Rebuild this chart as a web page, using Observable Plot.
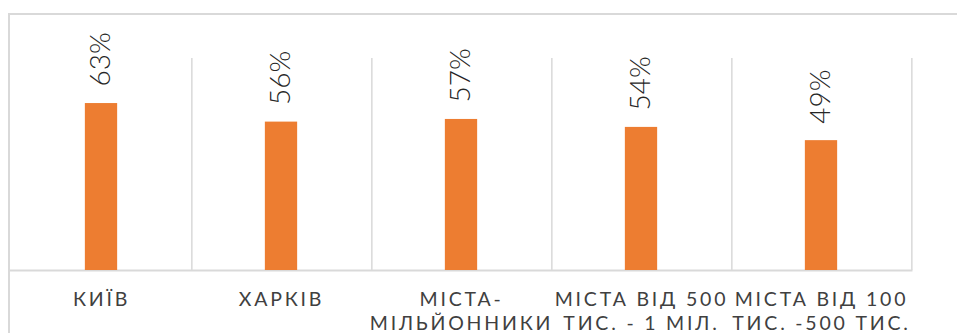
<!DOCTYPE html>
<html>
<head>
<meta charset="utf-8">
<script src="https://cdn.jsdelivr.net/npm/d3@7"></script>
<script src="https://cdn.jsdelivr.net/npm/@observablehq/plot@0.6"></script>
<style>
  body { margin: 0; overflow: hidden; background: #fff; }
  #chart { position: relative; width: 957px; height: 333px; }
  .frame { position: absolute; left: 8px; top: 13px; width: 1000px; height: 400px;
           border-left: 2px solid #d9d9d9; border-top: 2px solid #d9d9d9; pointer-events: none; }
  #chart svg [aria-label="x-axis tick label"] text { letter-spacing: 2.8px; }
</style>
</head>
<body>
<div id="chart"><div class="frame"></div></div>
<script>
// Share by city group
const categories = [
  "КИЇВ",
  "ХАРКІВ",
  "МІСТА-\nМІЛЬЙОННИКИ",
  "МІСТА ВІД 500\nТИС. - 1 МІЛ.",
  "МІСТА ВІД 100\nТИС. -500 ТИС."
];
const shares = [63, 56, 57, 54, 49];
const valueLabels = ["63%", "56%", "57%", "54%", "49%"];
const yDomain = [0, 80];

const data = categories.map((category, i) => ({category, share: shares[i], label: valueLabels[i]}));

const W = 957, H = 333, mL = 9, mR = 44.5;
const step = (W - mL - mR) / categories.length;
const barWidth = 33;
const inset = (step - barWidth) / 2;

const plot = Plot.plot({
  width: W,
  height: H,
  marginLeft: mL,
  marginRight: mR,
  marginTop: 58,
  marginBottom: 63,
  style: {background: "transparent", overflow: "visible"},
  x: {domain: categories, padding: 0},
  y: {domain: yDomain, axis: null},
  marks: [
    // vertical separators on the right edge of each category band
    Plot.ruleX(categories, {x: d => d, y1: yDomain[0], y2: yDomain[1], dx: step / 2, stroke: "#d9d9d9", strokeWidth: 1.5}),
    Plot.ruleY([0], {stroke: "#d9d9d9", strokeWidth: 2}),
    Plot.barY(data, {x: "category", y: "share", fill: "#ED7D31", insetLeft: inset, insetRight: inset}),
    Plot.text(data, {
      x: "category", y: "share", text: "label",
      rotate: -90, textAnchor: "start", dy: -17,
      fontFamily: "Lato", fontWeight: 300, fontSize: 28, fill: "#262626"
    }),
    Plot.axisX({
      tickSize: 0, tickPadding: 18, fontSize: 19.5, lineHeight: 1.246,
      fill: "#404040", fontFamily: "Lato", label: null
    })
  ]
});

document.getElementById("chart").prepend(plot);
plot.style.position = "absolute";
plot.style.left = "0";
plot.style.top = "0";
</script>
</body>
</html>
